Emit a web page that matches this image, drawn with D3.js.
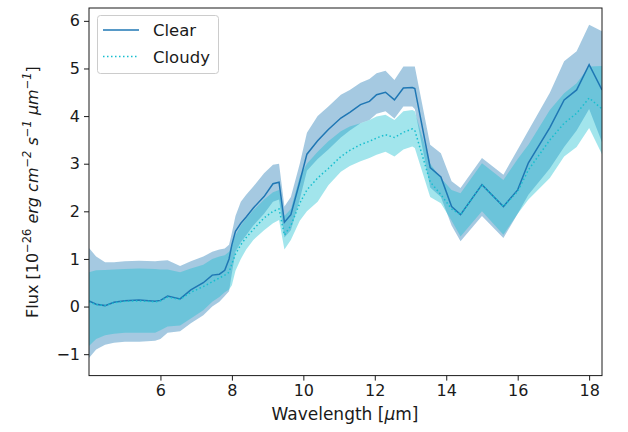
<!DOCTYPE html>
<html>
<head>
<meta charset="utf-8">
<script src="https://cdn.jsdelivr.net/npm/d3@7"></script>
<style>
  body { margin: 0; background: #fff; }
  text { font-family: "DejaVu Sans", sans-serif; }
</style>
</head>
<body>
<script>
// wavelength grid (micron)
var wavelength = [4.0, 4.2, 4.45, 4.7, 5.0, 5.4, 5.85, 6.0, 6.2, 6.55, 6.85, 7.2, 7.45, 7.65, 7.8, 7.92,
  8.0, 8.1, 8.25, 8.4, 8.6, 8.9, 9.15, 9.32, 9.47, 9.65, 9.9, 10.1, 10.4, 10.7, 11.05, 11.3, 11.6,
  11.85, 12.05, 12.3, 12.55, 12.8, 13.05, 13.12, 13.55, 13.85, 14.15, 14.4, 15.0, 15.6, 16.0, 16.3,
  16.9, 17.3, 17.65, 18.0, 18.36];

var clearFlux = [0.12, 0.05, 0.02, 0.09, 0.12, 0.14, 0.11, 0.13, 0.22, 0.16, 0.35, 0.5, 0.66, 0.68, 0.76, 1.0,
  1.3, 1.58, 1.75, 1.88, 2.07, 2.31, 2.58, 2.61, 1.77, 1.93, 2.62, 3.2, 3.48, 3.72, 3.96, 4.08, 4.24,
  4.31, 4.45, 4.5, 4.34, 4.59, 4.6, 4.58, 2.92, 2.72, 2.1, 1.93, 2.56, 2.1, 2.45, 3.02,
  3.76, 4.34, 4.55, 5.08, 4.55];
var clearHigh = [1.23, 1.05, 0.93, 0.93, 0.95, 0.96, 0.95, 0.96, 0.97, 0.85, 0.95, 1.05, 1.15, 1.2, 1.22, 1.3,
  1.55, 1.9, 2.2, 2.35, 2.52, 2.8, 2.98, 3.0, 2.1, 2.3, 3.0, 3.65, 4.0, 4.2, 4.45, 4.55, 4.7,
  4.78, 4.9, 4.95, 4.76, 5.04, 5.04, 5.04, 3.4, 3.22, 2.63, 2.49, 3.12, 2.77, 3.3, 3.7,
  4.49, 5.15, 5.36, 5.92, 5.78];
var clearLow = [-1.08, -0.9, -0.8, -0.76, -0.74, -0.74, -0.72, -0.68, -0.55, -0.52, -0.35, -0.18, 0.0, 0.1, 0.22, 0.32,
  0.7, 1.15, 1.35, 1.5, 1.7, 1.95, 2.2, 2.25, 1.45, 1.6, 2.25, 2.85, 3.1, 3.3, 3.55, 3.7, 3.85,
  3.92, 4.05, 4.1, 3.95, 4.2, 4.2, 4.15, 2.5, 2.3, 1.7, 1.37, 1.9, 1.44, 1.95, 2.35,
  2.9, 3.35, 3.7, 4.15, 3.45];

var cloudyFlux = [0.1, 0.04, 0.02, 0.08, 0.11, 0.12, 0.1, 0.12, 0.2, 0.15, 0.3, 0.42, 0.52, 0.6, 0.66, 0.72,
  0.9, 1.1, 1.3, 1.45, 1.62, 1.86, 2.0, 2.05, 1.5, 1.7, 2.17, 2.45, 2.7, 2.9, 3.15, 3.28, 3.4,
  3.47, 3.54, 3.61, 3.55, 3.66, 3.73, 3.7, 2.62, 2.35, 2.05, 1.93, 2.56, 2.1, 2.42, 2.87,
  3.5, 3.85, 4.06, 4.38, 4.15];
var cloudyHigh = [0.72, 0.76, 0.77, 0.78, 0.79, 0.8, 0.79, 0.78, 0.78, 0.72, 0.8, 0.88, 1.0, 1.05, 1.08, 1.15,
  1.3, 1.5, 1.7, 1.85, 2.02, 2.25, 2.4, 2.45, 1.9, 2.05, 2.73, 3.0, 3.25, 3.47, 3.68, 3.78, 3.85,
  3.92, 3.99, 4.03, 3.92, 4.1, 4.13, 4.1, 3.0, 2.7, 2.45, 2.38, 3.01, 2.66, 3.1, 3.4,
  4.13, 4.48, 4.69, 5.04, 5.05];
var cloudyLow = [-0.83, -0.68, -0.6, -0.57, -0.55, -0.55, -0.55, -0.5, -0.42, -0.4, -0.25, -0.08, 0.1, 0.2, 0.3, 0.36,
  0.45, 0.75, 1.0, 1.2, 1.4, 1.6, 1.75, 1.82, 1.2, 1.4, 1.8, 2.0, 2.2, 2.55, 2.83, 2.95, 3.05,
  3.12, 3.19, 3.25, 3.15, 3.3, 3.36, 3.33, 2.3, 2.17, 1.8, 1.47, 2.0, 1.51, 1.95, 2.25,
  2.7, 3.15, 3.35, 3.75, 3.2];

var xTicks = [6, 8, 10, 12, 14, 16, 18],
    yTicks = [-1, 0, 1, 2, 3, 4, 5, 6];

var width = 628,
    height = 432;

var clearColor = "#1f77b4",
    cloudyColor = "#17becf",
    textColor = "#1a1a1a";

var svg = d3.select("body").append("svg")
    .attr("width", width)
    .attr("height", height);

var x = d3.scaleLinear().domain([4.0, 18.36]).range([89, 602]);
var y = d3.scaleLinear().domain([-1.45, 6.27]).range([375.6, 8]);

var rows = wavelength.map(function(w, i) {
  return {w: w, c: clearFlux[i], cl: clearLow[i], ch: clearHigh[i],
          d: cloudyFlux[i], dl: cloudyLow[i], dh: cloudyHigh[i]};
});

svg.append("clipPath").attr("id", "plot")
  .append("rect").attr("x", 89).attr("y", 8).attr("width", 513).attr("height", 367.6);

var plot = svg.append("g").attr("clip-path", "url(#plot)");

// bands: clear first, cloudy on top
plot.append("path")
  .datum(rows)
  .attr("fill", clearColor)
  .attr("fill-opacity", 0.4)
  .attr("d", d3.area().x(function(d) { return x(d.w); })
    .y0(function(d) { return y(d.cl); })
    .y1(function(d) { return y(d.ch); }));

plot.append("path")
  .datum(rows)
  .attr("fill", cloudyColor)
  .attr("fill-opacity", 0.4)
  .attr("d", d3.area().x(function(d) { return x(d.w); })
    .y0(function(d) { return y(d.dl); })
    .y1(function(d) { return y(d.dh); }));

plot.append("path")
  .datum(rows)
  .attr("fill", "none")
  .attr("stroke", clearColor)
  .attr("stroke-width", 1.5)
  .attr("d", d3.line().x(function(d) { return x(d.w); }).y(function(d) { return y(d.c); }));

plot.append("path")
  .datum(rows)
  .attr("fill", "none")
  .attr("stroke", cloudyColor)
  .attr("stroke-width", 1.5)
  .attr("stroke-dasharray", "1.5,2.5")
  .attr("d", d3.line().x(function(d) { return x(d.w); }).y(function(d) { return y(d.d); }));

// axes
var xAxis = svg.append("g")
  .attr("transform", "translate(0,375.6)")
  .call(d3.axisBottom(x).tickValues(xTicks).tickSize(5).tickPadding(4).tickSizeOuter(0));
var yAxis = svg.append("g")
  .attr("transform", "translate(89,0)")
  .call(d3.axisLeft(y).tickValues(yTicks).tickSize(5).tickPadding(4).tickSizeOuter(0));

[xAxis, yAxis].forEach(function(g) {
  g.select(".domain").remove();
  g.selectAll("text").attr("font-family", "DejaVu Sans").attr("font-size", 16).attr("fill", textColor);
  g.selectAll("line").attr("stroke", textColor);
});

svg.append("rect")
  .attr("x", 89).attr("y", 8).attr("width", 513).attr("height", 367.6)
  .attr("fill", "none").attr("stroke", textColor).attr("stroke-width", 1);

// axis labels
svg.append("text")
  .attr("x", 345).attr("y", 420)
  .attr("text-anchor", "middle")
  .attr("font-size", 17).attr("fill", textColor)
  .html('Wavelength [<tspan font-style="italic">μ</tspan>m]');

var yl = svg.append("text")
  .attr("transform", "translate(38,192) rotate(-90)")
  .attr("text-anchor", "middle")
  .attr("font-size", 16).attr("fill", textColor);
yl.append("tspan").text("Flux [10");
yl.append("tspan").attr("font-size", 11.5).attr("dy", -7).text("−26");
yl.append("tspan").attr("dy", 7).attr("font-style", "italic").text(" erg cm");
yl.append("tspan").attr("font-size", 11.5).attr("dy", -7).attr("font-style", "italic").text("−2");
yl.append("tspan").attr("dy", 7).attr("font-style", "italic").text(" s");
yl.append("tspan").attr("font-size", 11.5).attr("dy", -7).attr("font-style", "italic").text("−1");
yl.append("tspan").attr("dy", 7).attr("font-style", "italic").text(" μm");
yl.append("tspan").attr("font-size", 11.5).attr("dy", -7).attr("font-style", "italic").text("−1");
yl.append("tspan").attr("dy", 7).text("]");

// legend
var legend = svg.append("g");
legend.append("rect")
  .attr("x", 97.5).attr("y", 15.5).attr("width", 121).attr("height", 58).attr("rx", 3)
  .attr("fill", "#fff").attr("fill-opacity", 0.8)
  .attr("stroke", "#ccc").attr("stroke-width", 1);
var legendItems = [
  {label: "Clear", color: clearColor, dash: null},
  {label: "Cloudy", color: cloudyColor, dash: "1.5,2.5"}
];
legend.selectAll(".item")
  .data(legendItems)
  .enter().append("g")
  .attr("transform", function(d, i) { return "translate(0," + (30 + i * 26.5) + ")"; })
  .each(function(d) {
    var g = d3.select(this);
    g.append("line").attr("x1", 103).attr("x2", 139).attr("y1", 0).attr("y2", 0)
      .attr("stroke", d.color).attr("stroke-width", 1.5)
      .attr("stroke-dasharray", d.dash);
    g.append("text").attr("x", 153).attr("y", 6)
      .attr("font-size", 16.5).attr("fill", textColor).text(d.label);
  });
</script>
</body>
</html>
